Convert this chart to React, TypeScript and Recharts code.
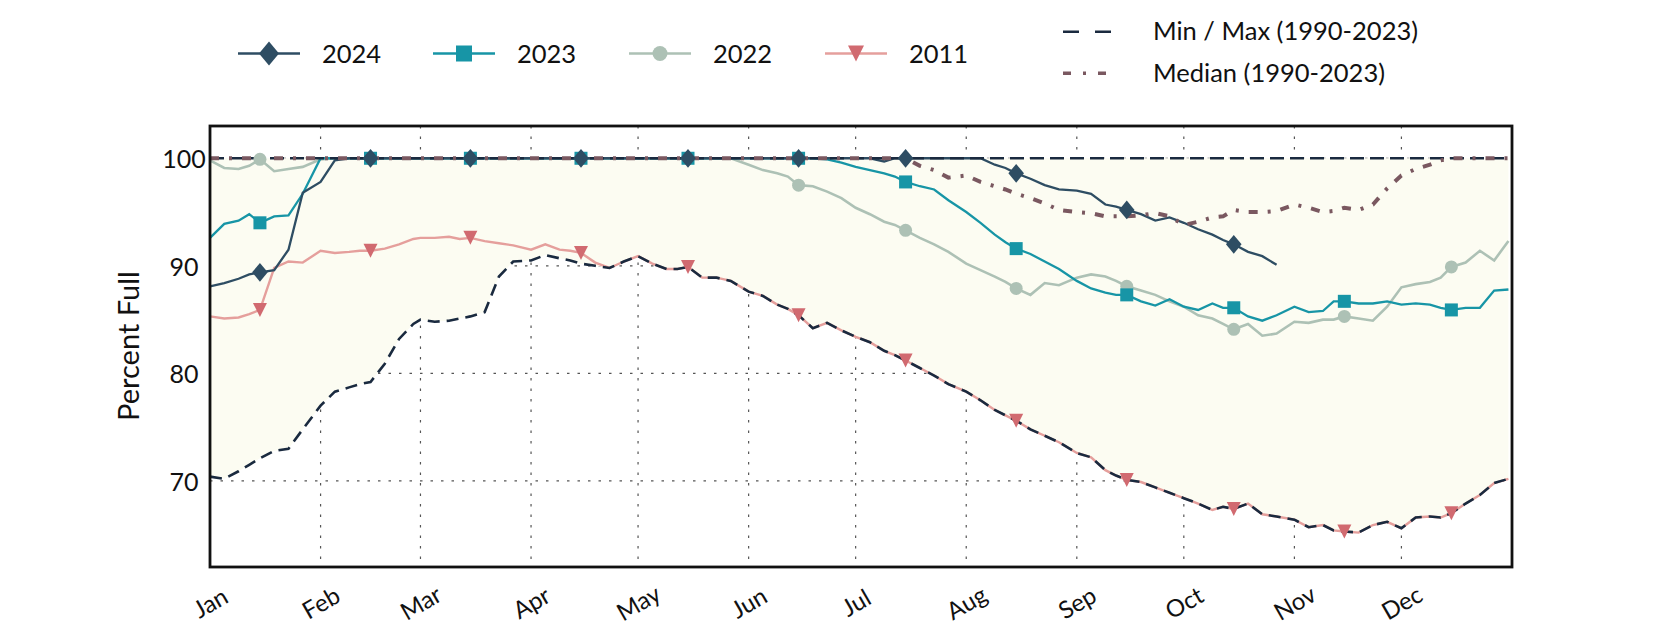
import React from "react";
import { Area, CartesianGrid, ComposedChart, Line, XAxis, YAxis } from "recharts";

// day of year (0 = Jan 1) for each sample
const days = [
  0, 4, 8, 11, 14, 18, 22, 26,
  31, 35, 39, 42, 45, 49, 53, 57,
  59, 63, 67, 70, 73, 77, 81, 85,
  90, 94, 98, 101, 104, 108, 112, 116,
  120, 124, 128, 131, 134, 138, 142, 146,
  151, 155, 159, 162, 165, 169, 173, 177,
  181, 185, 189, 192, 195, 199, 203, 207,
  212, 216, 220, 223, 226, 230, 234, 238,
  243, 247, 251, 254, 257, 261, 265, 269,
  273, 277, 281, 284, 287, 291, 295, 299,
  304, 308, 312, 315, 318, 322, 326, 330,
  334, 338, 342, 345, 348, 352, 356, 360,
  364,
];

const monthTicks = [0, 31, 59, 90, 120, 151, 181, 212, 243, 273, 304, 334];
const monthLabels = ["Jan", "Feb", "Mar", "Apr", "May", "Jun", "Jul", "Aug", "Sep", "Oct", "Nov", "Dec"];
// 15th of each month gets a marker
const markerDays = [14, 45, 73, 104, 134, 165, 195, 226, 257, 287, 318, 348];
const yTicks = [70, 80, 90, 100];

const y2024 = [
  88.1, 88.4, 88.8, 89.2, 89.4, 89.6, 91.5, 96.8,
  97.8, 99.8, 100, 100, 100, 100, 100, 100,
  100, 100, 100, 100, 100, 100, 100, 100,
  100, 100, 100, 100, 100, 100, 100, 100,
  100, 100, 100, 100, 100, 100, 100, 100,
  100, 100, 100, 100, 100, 100, 100, 100,
  100, 100, 99.7, 100, 100, 100, 100, 100,
  100, 100, 99.4, 99.1, 98.6, 98.1, 97.5, 97.1,
  97.0, 96.7, 95.7, 95.5, 95.2, 94.8, 94.2, 94.5,
  94.0, 93.4, 92.9, 92.4, 92.0, 91.3, 90.9, 90.1,
  null, null, null, null, null, null, null, null,
  null, null, null, null, null, null, null, null,
  null,
];

const y2023 = [
  92.6, 93.9, 94.2, 94.8, 94.0, 94.6, 94.7, 96.7,
  100, 100, 100, 100, 100, 100, 100, 100,
  100, 100, 100, 100, 100, 100, 100, 100,
  100, 100, 100, 100, 100, 100, 100, 100,
  100, 100, 100, 100, 100, 100, 100, 100,
  100, 100, 100, 100, 100, 100, 99.9, 99.6,
  99.2, 98.9, 98.6, 98.3, 97.8, 97.4, 97.1, 96.1,
  95.0, 94.0, 92.9, 92.2, 91.6, 91.1, 90.4, 89.7,
  88.6, 87.9, 87.5, 87.3, 87.3, 86.7, 86.3, 86.9,
  86.2, 85.9, 86.5, 86.1, 86.1, 85.3, 84.9, 85.4,
  86.2, 85.7, 85.8, 86.7, 86.7, 86.5, 86.5, 86.7,
  86.4, 86.5, 86.4, 86.1, 85.9, 86.1, 86.1, 87.7,
  87.8,
];

const y2022 = [
  99.8, 99.1, 99.0, 99.3, 99.9, 98.8, 99.0, 99.2,
  99.9, 100, 100, 100, 100, 100, 100, 100,
  100, 100, 100, 100, 100, 100, 100, 100,
  100, 100, 100, 100, 100, 100, 100, 100,
  100, 100, 100, 100, 100, 100, 100, 100,
  99.4, 98.9, 98.6, 98.3, 97.5, 97.4, 96.9, 96.3,
  95.4, 94.8, 94.1, 93.8, 93.3, 92.6, 92.0, 91.3,
  90.2, 89.6, 89.0, 88.5, 87.9, 87.3, 88.4, 88.2,
  88.9, 89.2, 89.0, 88.6, 88.1, 87.7, 87.3, 86.7,
  86.2, 85.4, 85.1, 84.6, 84.1, 84.6, 83.5, 83.7,
  84.8, 84.7, 85.0, 85.0, 85.3, 85.1, 84.9, 86.2,
  88.0, 88.3, 88.5, 88.9, 89.9, 90.3, 91.4, 90.5,
  92.3,
];

const y2011 = [
  85.3, 85.1, 85.2, 85.5, 85.9, 89.8, 90.4, 90.3,
  91.4, 91.2, 91.3, 91.4, 91.4, 91.6, 92.0, 92.5,
  92.6, 92.6, 92.7, 92.5, 92.6, 92.3, 92.1, 91.9,
  91.5, 92.0, 91.5, 91.4, 91.2, 90.3, 89.8, 90.4,
  90.9, 90.2, 89.7, 89.7, 89.9, 88.9, 88.9, 88.6,
  87.6, 87.2, 86.4, 86.0, 85.4, 84.2, 84.7, 84.0,
  83.4, 82.9, 82.1, 81.7, 81.2, 80.5, 79.8, 79.0,
  78.3, 77.5, 76.6, 76.1, 75.6, 74.8, 74.2, 73.6,
  72.6, 72.2, 71.0, 70.5, 70.1, 69.9, 69.4, 68.9,
  68.4, 67.9, 67.3, 67.6, 67.4, 67.9, 66.9, 66.7,
  66.4, 65.7, 65.9, 65.4, 65.3, 65.2, 65.9, 66.2,
  65.6, 66.6, 66.7, 66.6, 67.0, 67.9, 68.7, 69.8,
  70.2,
];

const minValues = [
  70.4, 70.2, 70.9, 71.5, 72.1, 72.8, 73.0, 74.8,
  77.0, 78.3, 78.7, 79.0, 79.2, 80.9, 83.2, 84.6,
  85.0, 84.8, 84.9, 85.1, 85.3, 85.7, 89.0, 90.4,
  90.5, 91.0, 90.7, 90.5, 90.2, 90.0, 89.8, 90.4,
  90.9, 90.2, 89.7, 89.7, 89.9, 88.9, 88.9, 88.6,
  87.6, 87.2, 86.4, 86.0, 85.4, 84.2, 84.7, 84.0,
  83.4, 82.9, 82.1, 81.7, 81.2, 80.5, 79.8, 79.0,
  78.3, 77.5, 76.6, 76.1, 75.6, 74.8, 74.2, 73.6,
  72.6, 72.2, 71.0, 70.5, 70.1, 69.9, 69.4, 68.9,
  68.4, 67.9, 67.3, 67.6, 67.4, 67.9, 66.9, 66.7,
  66.4, 65.7, 65.9, 65.4, 65.3, 65.2, 65.9, 66.2,
  65.6, 66.6, 66.7, 66.6, 67.0, 67.9, 68.7, 69.8,
  70.2,
];

const maxValues = [
  100, 100, 100, 100, 100, 100, 100, 100,
  100, 100, 100, 100, 100, 100, 100, 100,
  100, 100, 100, 100, 100, 100, 100, 100,
  100, 100, 100, 100, 100, 100, 100, 100,
  100, 100, 100, 100, 100, 100, 100, 100,
  100, 100, 100, 100, 100, 100, 100, 100,
  100, 100, 100, 100, 100, 100, 100, 100,
  100, 100, 100, 100, 100, 100, 100, 100,
  100, 100, 100, 100, 100, 100, 100, 100,
  100, 100, 100, 100, 100, 100, 100, 100,
  100, 100, 100, 100, 100, 100, 100, 100,
  100, 100, 100, 100, 100, 100, 100, 100,
  100,
];

const medianValues = [
  100, 100, 100, 100, 100, 100, 100, 100,
  100, 100, 100, 100, 100, 100, 100, 100,
  100, 100, 100, 100, 100, 100, 100, 100,
  100, 100, 100, 100, 100, 100, 100, 100,
  100, 100, 100, 100, 100, 100, 100, 100,
  100, 100, 100, 100, 100, 100, 100, 100,
  100, 100, 100, 100, 100, 99.3, 98.9, 98.2,
  98.4, 97.8, 97.4, 97.1, 96.7, 96.3, 95.8, 95.2,
  95.0, 94.9, 94.6, 94.6, 94.6, 94.7, 94.9, 94.6,
  93.8, 94.1, 94.5, 94.6, 95.2, 95.0, 95.0, 95.1,
  95.7, 95.4, 95.0, 95.1, 95.4, 95.2, 95.7, 97.2,
  98.4, 99.0, 99.4, 99.8, 100, 100, 100, 100,
  100,
];

const data = days.map((day, i) => ({
  day,
  y2024: y2024[i],
  y2023: y2023[i],
  y2022: y2022[i],
  y2011: y2011[i],
  min: minValues[i],
  max: maxValues[i],
  median: medianValues[i],
  band: [minValues[i], maxValues[i]],
}));

const C2024 = "#2e4d63";
const C2023 = "#1795a6";
const C2022 = "#adc1b5";
const C2011 = "#e59f9c";
const C2011_MARK = "#d16a70";
const CMINMAX = "#1a2a3f";
const CMEDIAN = "#7a5860";
const FILL = "#fcfcf2";
const FONT = "Lato, 'Open Sans', sans-serif";

type Shape = "diamond" | "square" | "circle" | "triangle";

const drawMarker = (shape: Shape, cx: number, cy: number, color: string, s: number, key?: any) => {
  if (shape === "diamond")
    return <polygon key={key} points={`${cx},${cy - s * 1.2} ${cx + s},${cy} ${cx},${cy + s * 1.2} ${cx - s},${cy}`} fill={color} />;
  if (shape === "square") return <rect key={key} x={cx - s} y={cy - s} width={s * 2} height={s * 2} fill={color} />;
  if (shape === "circle") return <circle key={key} cx={cx} cy={cy} r={s} fill={color} />;
  return <polygon key={key} points={`${cx - s},${cy - s} ${cx + s},${cy - s} ${cx},${cy + s}`} fill={color} />;
};

const markerDot = (shape: Shape, color: string, s: number) => (props: any) => {
  const { cx, cy, payload, value, index } = props;
  if (value == null || cy == null || !markerDays.includes(payload.day)) return <g key={`e${index}`} />;
  return drawMarker(shape, cx, cy, color, s, `m${index}`);
};

const MonthTick = (props: any) => {
  const { x, payload } = props;
  const label = monthLabels[monthTicks.indexOf(payload.value)];
  return (
    <text
      x={x}
      y={602}
      textAnchor="middle"
      dominantBaseline="central"
      transform={`rotate(-30, ${x}, 602)`}
      fontFamily={FONT}
      fontSize={24}
      fill="#111"
    >
      {label}
    </text>
  );
};

const ValueTick = (props: any) => {
  const { y, payload } = props;
  return (
    <text x={184} y={y} textAnchor="middle" dominantBaseline="central" fontFamily={FONT} fontSize={25} fill="#111">
      {payload.value}
    </text>
  );
};

const yearLegend = [
  { label: "2024", color: C2024, mark: C2024, shape: "diamond" as Shape, x0: 238, s: 10 },
  { label: "2023", color: C2023, mark: C2023, shape: "square" as Shape, x0: 433, s: 8 },
  { label: "2022", color: C2022, mark: C2022, shape: "circle" as Shape, x0: 629, s: 7.5 },
  { label: "2011", color: C2011, mark: C2011_MARK, shape: "triangle" as Shape, x0: 825, s: 8 },
];

export default function App() {
  return (
    <div style={{ position: "absolute", left: 0, top: 0, width: 1680, height: 630, background: "#fff" }}>
      <ComposedChart width={1680} height={630} data={data} margin={{ top: 126, right: 168, bottom: 23, left: 150 }}>
        <Area dataKey="band" fill={FILL} fillOpacity={1} stroke="none" isAnimationActive={false} />
        <CartesianGrid stroke="#555" strokeDasharray="2.5 8" strokeWidth={1.2} />
        <XAxis
          dataKey="day"
          type="number"
          domain={[0, 365]}
          ticks={monthTicks}
          tick={<MonthTick />}
          axisLine={false}
          tickLine={false}
          height={40}
          interval={0}
        />
        <YAxis
          domain={[62, 103]}
          ticks={yTicks}
          tick={<ValueTick />}
          axisLine={false}
          tickLine={false}
          width={60}
          allowDataOverflow
        />
        <Line dataKey="y2022" stroke={C2022} strokeWidth={2.6} dot={false} isAnimationActive={false} />
        <Line dataKey="y2023" stroke={C2023} strokeWidth={2.3} dot={false} isAnimationActive={false} />
        <Line dataKey="y2011" stroke={C2011} strokeWidth={2.4} dot={false} isAnimationActive={false} />
        <Line dataKey="y2024" stroke={C2024} strokeWidth={2.3} dot={false} isAnimationActive={false} />
        <Line dataKey="min" stroke={CMINMAX} strokeWidth={2.6} strokeDasharray="12 7" dot={false} isAnimationActive={false} />
        <Line dataKey="max" stroke={CMINMAX} strokeWidth={2.6} strokeDasharray="14 6" dot={false} isAnimationActive={false} />
        <Line dataKey="median" stroke={CMEDIAN} strokeWidth={4} strokeDasharray="9 10 3 10" dot={false} isAnimationActive={false} />
        <Line dataKey="y2022" stroke="none" dot={markerDot("circle", C2022, 6.5)} activeDot={false} isAnimationActive={false} />
        <Line dataKey="y2023" stroke="none" dot={markerDot("square", C2023, 6.5)} activeDot={false} isAnimationActive={false} />
        <Line dataKey="y2011" stroke="none" dot={markerDot("triangle", C2011_MARK, 7)} activeDot={false} isAnimationActive={false} />
        <Line dataKey="y2024" stroke="none" dot={markerDot("diamond", C2024, 7.8)} activeDot={false} isAnimationActive={false} />
      </ComposedChart>
      <svg
        width={1680}
        height={630}
        style={{ position: "absolute", left: 0, top: 0, pointerEvents: "none" }}
      >
        <rect x={210} y={126} width={1302} height={441} fill="none" stroke="#111" strokeWidth={2.8} />
        <text
          x={127}
          y={346}
          transform="rotate(-90, 127, 346)"
          textAnchor="middle"
          dominantBaseline="central"
          fontFamily={FONT}
          fontSize={29}
          fill="#111"
        >
          Percent Full
        </text>
        {yearLegend.map((item) => (
          <g key={item.label}>
            <line x1={item.x0} x2={item.x0 + 62} y1={53.5} y2={53.5} stroke={item.color} strokeWidth={2.6} />
            {drawMarker(item.shape, item.x0 + 31, 53.5, item.mark, item.s)}
            <text x={item.x0 + 84} y={63} fontFamily={FONT} fontSize={25.5} fill="#111">
              {item.label}
            </text>
          </g>
        ))}
        <line x1={1063} x2={1111} y1={31.7} y2={31.7} stroke={CMINMAX} strokeWidth={2.6} strokeDasharray="16 16" />
        <text x={1153} y={39.5} fontFamily={FONT} fontSize={25.5} fill="#111">
          Min / Max (1990-2023)
        </text>
        <line x1={1063} x2={1111} y1={73.3} y2={73.3} stroke={CMEDIAN} strokeWidth={3.5} strokeDasharray="8 12 3 12" />
        <text x={1153} y={81.7} fontFamily={FONT} fontSize={25.5} fill="#111">
          Median (1990-2023)
        </text>
      </svg>
    </div>
  );
}
